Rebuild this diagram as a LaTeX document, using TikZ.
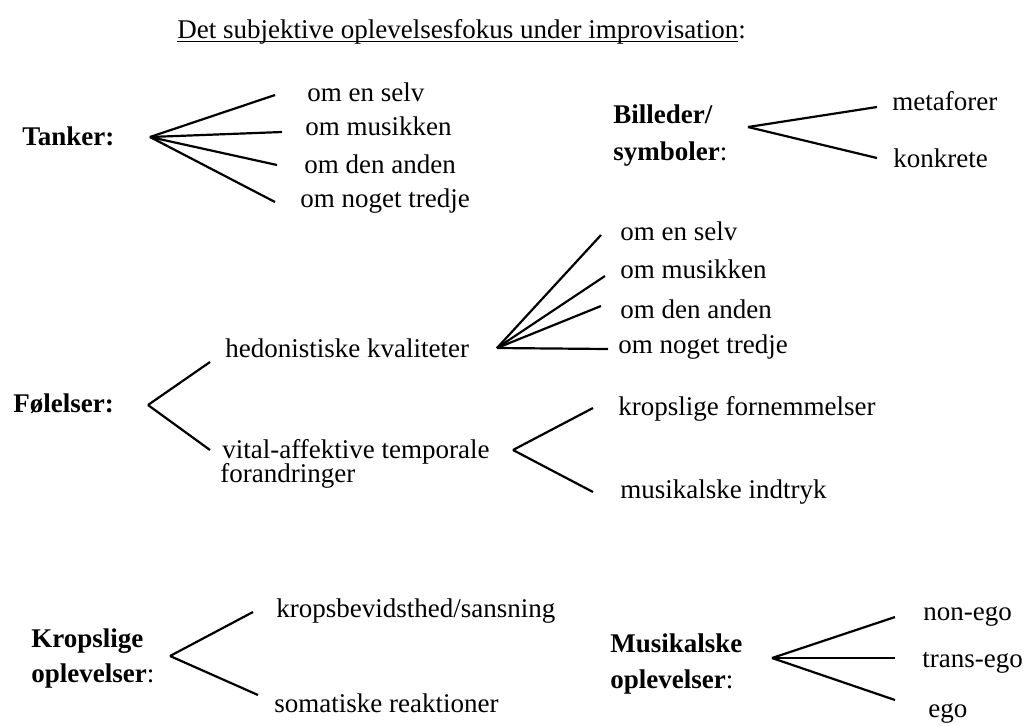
\documentclass[tikz,border=0pt]{standalone}
\usepackage{fontspec}
\setmainfont{Liberation Serif}
% underline drawn at a fixed depth below the baseline
\newcommand\titleuline[1]{\setbox0\hbox{#1}\rlap{\rule[-2pt]{\wd0}{0.6pt}}#1}
\begin{document}
\begin{tikzpicture}[x=0.5pt,y=-0.5pt,
  lbl/.style={anchor=base west,inner sep=0pt,font=\fontsize{13.5}{16}\selectfont},
  head/.style={lbl,font=\fontsize{13.5}{16}\selectfont\bfseries},
  branch/.style={line width=1.1pt}]
\useasboundingbox (0,0) rectangle (1025,725);

% title
\node[lbl] (title) at (177,38) {\titleuline{Det subjektive oplevelsesfokus under improvisation}:};

% Tanker
\node[head] (tanker) at (22,145) {Tanker:};
\coordinate (tHub) at (150,137);
\node[lbl] (t1) at (307,101) {om en selv};
\node[lbl] (t2) at (305,135) {om musikken};
\node[lbl] (t3) at (304,173) {om den anden};
\node[lbl] (t4) at (300,207) {om noget tredje};
\coordinate (t1e) at (275,95);
\coordinate (t2e) at (282,132);
\coordinate (t3e) at (277,165);
\coordinate (t4e) at (275,202);
\foreach \e in {t1e,t2e,t3e,t4e} \draw[branch] (tHub) -- (\e);

% Billeder / symboler
\node[head] (bil1) at (613,123) {Billeder/};
\node[head] (bil2) at (613,160) {symboler\mdseries:};
\coordinate (bHub) at (748,127);
\node[lbl] (b1) at (892,110) {metaforer};
\node[lbl] (b2) at (893,167) {konkrete};
\coordinate (b1e) at (877,107);
\coordinate (b2e) at (877,158);
\foreach \e in {b1e,b2e} \draw[branch] (bHub) -- (\e);

% Foelelser
\node[head] (fol) at (13,412) {Følelser:};
\coordinate (fHub) at (148,405);
\node[lbl] (hed) at (225,357) {hedonistiske kvaliteter};
\node[lbl] (vit1) at (222,458) {vital-affektive temporale};
\node[lbl] (vit2) at (220,482) {forandringer};
\coordinate (f1e) at (210,362);
\coordinate (f2e) at (210,450);
\foreach \e in {f1e,f2e} \draw[branch] (fHub) -- (\e);

% hedonistiske kvaliteter
\coordinate (hHub) at (497,348);
\node[lbl] (h1) at (620,240) {om en selv};
\node[lbl] (h2) at (620,278) {om musikken};
\node[lbl] (h3) at (620,318) {om den anden};
\node[lbl] (h4) at (618,353) {om noget tredje};
\coordinate (h1e) at (601,235);
\coordinate (h2e) at (605,276);
\coordinate (h3e) at (601,306);
\coordinate (h4e) at (608,349);
\foreach \e in {h1e,h2e,h3e,h4e} \draw[branch] (hHub) -- (\e);

% vital-affektive temporale forandringer
\coordinate (vHub) at (513,450);
\node[lbl] (v1) at (618,415) {kropslige fornemmelser};
\node[lbl] (v2) at (620,498) {musikalske indtryk};
\coordinate (v1e) at (593,408);
\coordinate (v2e) at (593,492);
\foreach \e in {v1e,v2e} \draw[branch] (vHub) -- (\e);

% Kropslige oplevelser
\node[head] (krop1) at (31,647) {Kropslige};
\node[head] (krop2) at (31,682) {oplevelser\mdseries:};
\coordinate (kHub) at (170,656);
\node[lbl] (k1) at (276,617) {kropsbevidsthed/sansning};
\node[lbl] (k2) at (274,712) {somatiske reaktioner};
\coordinate (k1e) at (253,612);
\coordinate (k2e) at (258,695);
\foreach \e in {k1e,k2e} \draw[branch] (kHub) -- (\e);

% Musikalske oplevelser
\node[head] (mus1) at (610,652) {Musikalske};
\node[head] (mus2) at (610,688) {oplevelser\mdseries:};
\coordinate (mHub) at (772,658);
\node[lbl] (m1) at (923,620) {non-ego};
\node[lbl] (m2) at (922,667) {trans-ego};
\node[lbl] (m3) at (928,717) {ego};
\coordinate (m1e) at (895,617);
\coordinate (m2e) at (895,658);
\coordinate (m3e) at (895,700);
\foreach \e in {m1e,m2e,m3e} \draw[branch] (mHub) -- (\e);
\end{tikzpicture}
\end{document}
